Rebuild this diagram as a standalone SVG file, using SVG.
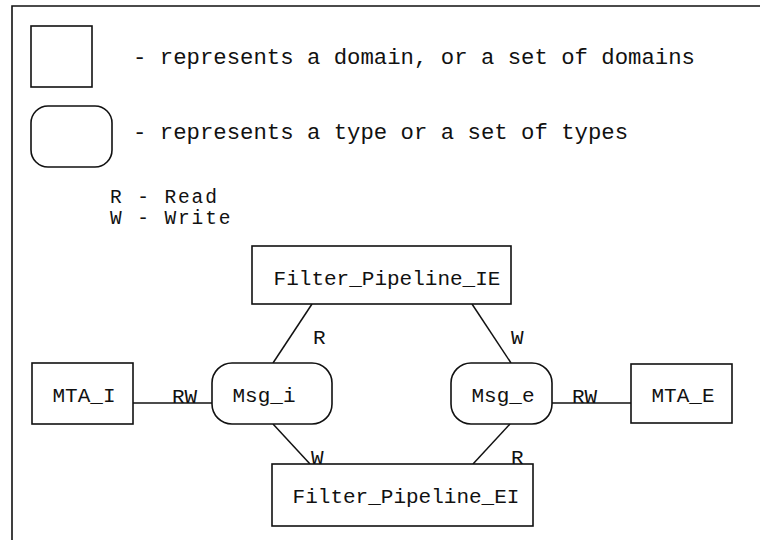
<svg xmlns="http://www.w3.org/2000/svg" width="760" height="540" viewBox="0 0 760 540">
  <style>
    .frame { fill: none; stroke: #111; stroke-width: 1.6; }
    .box { fill: #fff; stroke: #111; stroke-width: 1.6; }
    .edge { fill: none; stroke: #111; stroke-width: 1.5; }
    text { font-family: "Liberation Mono", "Courier New", monospace; fill: #111; }
    .legend { font-size: 22.3px; }
    .lbl { font-size: 21px; }
    .key { font-size: 19.5px; letter-spacing: 1.9px; }
    .mid { text-anchor: middle; }
  </style>
  <rect width="760" height="540" fill="#fff"/>

  <!-- page frame: top and left edges -->
  <path class="frame" d="M12,540 V6 H760"/>

  <!-- legend -->
  <g id="legend">
    <rect class="box" x="31" y="26" width="61" height="61"/>
    <text class="legend" x="133" y="64">- represents a domain, or a set of domains</text>
    <rect class="box" x="31" y="106" width="81" height="61" rx="17" ry="17"/>
    <text class="legend" x="133" y="139">- represents a type or a set of types</text>
    <text class="key" x="110" y="203">R - Read</text>
    <text class="key" x="110" y="224">W - Write</text>
  </g>

  <!-- connectors -->
  <g id="connectors">
    <line class="edge" x1="133" y1="403" x2="212" y2="403"/>
    <line class="edge" x1="312" y1="304" x2="273" y2="363"/>
    <line class="edge" x1="273" y1="424" x2="310" y2="464"/>
    <line class="edge" x1="552" y1="403" x2="631" y2="403"/>
    <line class="edge" x1="472" y1="304" x2="511" y2="363"/>
    <line class="edge" x1="510" y1="424" x2="473" y2="464"/>
    <text class="lbl" x="172" y="403">RW</text>
    <text class="lbl" x="313" y="344">R</text>
    <text class="lbl" x="311" y="464">W</text>
    <text class="lbl" x="572" y="403">RW</text>
    <text class="lbl" x="511" y="344">W</text>
    <text class="lbl" x="511" y="464">R</text>
  </g>

  <!-- domains -->
  <g id="filter-pipeline-ie">
    <rect class="box" x="252" y="246" width="259" height="58"/>
    <text class="lbl mid" x="387" y="285">Filter_Pipeline_IE</text>
  </g>
  <g id="filter-pipeline-ei">
    <rect class="box" x="272" y="464" width="261" height="62"/>
    <text class="lbl mid" x="406" y="503">Filter_Pipeline_EI</text>
  </g>
  <g id="mta-i">
    <rect class="box" x="32" y="363" width="101" height="61"/>
    <text class="lbl mid" x="84" y="402">MTA_I</text>
  </g>
  <g id="mta-e">
    <rect class="box" x="631" y="364" width="101" height="59"/>
    <text class="lbl mid" x="683" y="402">MTA_E</text>
  </g>

  <!-- types -->
  <g id="msg-i">
    <rect class="box" x="212" y="363" width="120" height="61" rx="20" ry="20"/>
    <text class="lbl mid" x="264" y="402">Msg_i</text>
  </g>
  <g id="msg-e">
    <rect class="box" x="451" y="363" width="101" height="61" rx="20" ry="20"/>
    <text class="lbl mid" x="503" y="402">Msg_e</text>
  </g>
</svg>
